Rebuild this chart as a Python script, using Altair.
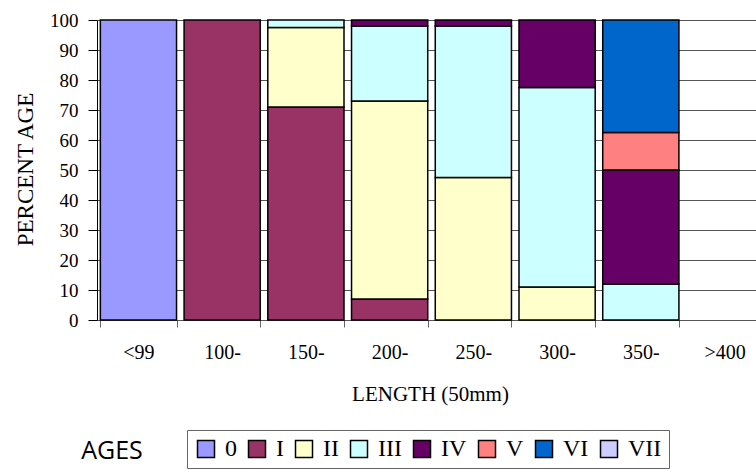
import altair as alt
import pandas as pd

# Length classes (50 mm bins) and age groups
lengths = ["<99", "100-", "150-", "200-", "250-", "300-", "350-", ">400"]
ages = ["0", "I", "II", "III", "IV", "V", "VI", "VII"]
age_colors = ["#9999FF", "#993366", "#FFFFCC", "#CCFFFF",
              "#660066", "#FF8080", "#0066CC", "#CCCCFF"]

# Percentage of each age group within each length class
pct_0 = [100, 0, 0, 0, 0, 0, 0, 0]
pct_I = [0, 100, 71, 7, 0, 0, 0, 0]
pct_II = [0, 0, 26.5, 66, 47.5, 11, 0, 0]
pct_III = [0, 0, 2.5, 25, 50.5, 66.5, 12, 0]
pct_IV = [0, 0, 0, 2, 2, 22.5, 38, 0]
pct_V = [0, 0, 0, 0, 0, 0, 12.5, 0]
pct_VI = [0, 0, 0, 0, 0, 0, 37.5, 0]
pct_VII = [0, 0, 0, 0, 0, 0, 0, 0]

series = [pct_0, pct_I, pct_II, pct_III, pct_IV, pct_V, pct_VI, pct_VII]

# Stack the segments bottom-up: age 0 first, VII last
rows = []
for j, length in enumerate(lengths):
    base = 0.0
    for age, vals in zip(ages, series):
        v = vals[j]
        if v > 0:
            rows.append({"length": length, "age": age,
                         "y0": base, "y1": base + v})
            base += v
df = pd.DataFrame(rows)

serif = "Liberation Serif"

bars = alt.Chart(df).mark_bar(stroke="black", strokeWidth=1.5).encode(
    x=alt.X(
        "length:N",
        sort=lengths,
        scale=alt.Scale(domain=lengths, range=[0, 669],
                        paddingInner=0.09, paddingOuter=0.04),
        axis=alt.Axis(
            title="LENGTH (50mm)",
            titleFont=serif, titleFontSize=21, titleFontWeight="normal",
            titleColor="black", titleX=333, titleY=74,
            titleBaseline="middle",
            labelFont=serif, labelFontSize=20, labelColor="black",
            labelAngle=0, labelBaseline="middle", labelPadding=25,
            tickBand="extent", tickSize=7, tickColor="#666",
            domainColor="#555", grid=False,
        ),
    ),
    y=alt.Y(
        "y0:Q",
        scale=alt.Scale(domain=[0, 100]),
        axis=alt.Axis(
            title="PERCENT AGE",
            values=list(range(0, 101, 10)),
            titleFont=serif, titleFontSize=23, titleFontWeight="normal",
            titleColor="black", titleX=-72, titleY=149,
            titleAlign="center", titleBaseline="middle",
            labelFont=serif, labelFontSize=19, labelColor="black",
            labelPadding=10, tickSize=9, tickColor="black",
            domainColor="black",
            grid=True, gridColor="#555", gridWidth=1,
        ),
    ),
    y2="y1:Q",
    color=alt.Color(
        "age:N",
        scale=alt.Scale(domain=ages, range=age_colors),
        legend=alt.Legend(
            title=None, orient="none", legendX=90, legendY=410,
            direction="horizontal", columns=8,
            padding=7, strokeColor="#666", fillColor="white",
            symbolType="square", symbolSize=289,
            symbolStrokeColor="black", symbolStrokeWidth=1.5,
            labelFont=serif, labelFontSize=24, labelColor="black",
            labelOffset=7, columnPadding=8,
        ),
    ),
)

ages_label = alt.Chart(pd.DataFrame({"t": ["AGES"]})).mark_text(
    font="Open Sans", fontSize=25, align="center", baseline="middle",
    color="black",
).encode(text="t:N", x=alt.value(15), y=alt.value(431))

chart = alt.layer(bars, ages_label).properties(
    width=659, height=300,
    autosize=alt.AutoSizeParams(type="none"),
    padding={"left": 97, "top": 20, "right": 0, "bottom": 153},
).configure_view(strokeWidth=0)

chart.save("out.html", embed_options={"renderer": "svg", "actions": False})
